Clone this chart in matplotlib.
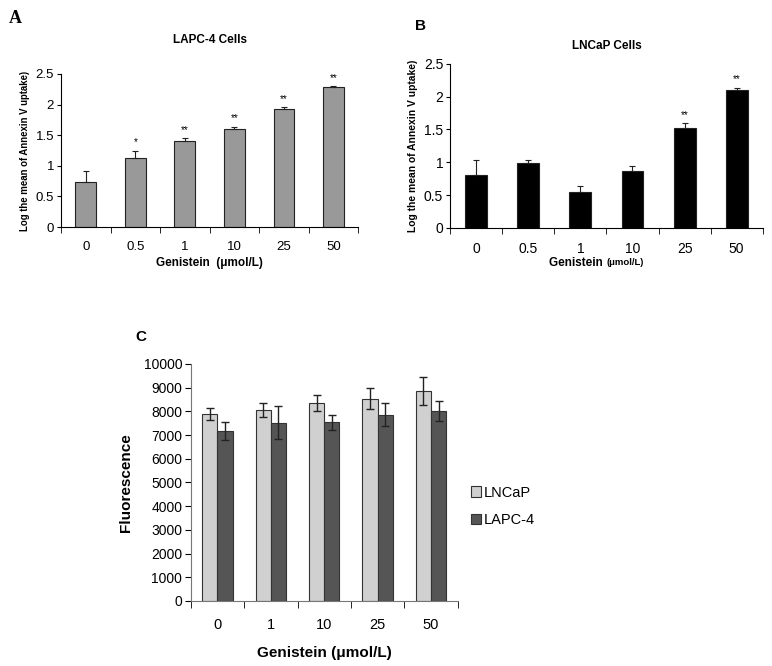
import numpy as np
import matplotlib
matplotlib.use('Agg')
import matplotlib.pyplot as plt

plt.rcParams['font.family'] = ['Liberation Sans', 'DejaVu Sans']

# panel A / B data
doses_ab = ['0', '0.5', '1', '10', '25', '50']
lapc_mean = [0.73, 1.13, 1.40, 1.60, 1.93, 2.28]
lapc_err = [0.18, 0.12, 0.06, 0.04, 0.03, 0.02]
lapc_sig = ['', '*', '**', '**', '**', '**']
lncap_mean = [0.80, 0.99, 0.55, 0.87, 1.52, 2.10]
lncap_err = [0.23, 0.05, 0.08, 0.07, 0.08, 0.04]
lncap_sig = ['', '', '', '', '**', '**']

# panel C data
doses_c = ['0', '1', '10', '25', '50']
fl_lncap = [7900, 8050, 8350, 8530, 8850]
fl_lncap_err = [250, 300, 350, 450, 600]
fl_lapc = [7180, 7520, 7530, 7860, 8020]
fl_lapc_err = [380, 700, 300, 500, 420]

fig = plt.figure(figsize=(7.72, 6.66), dpi=100)


def bar_panel(ax, means, errs, sig, color, tfs, yfs):
    x = np.arange(len(means))
    ax.bar(x, means, width=0.42, color=color, edgecolor='#222222', linewidth=0.8,
           yerr=[np.zeros(len(errs)), errs], capsize=2.5,
           error_kw=dict(elinewidth=0.8, capthick=0.8, ecolor='#222222'))
    for xi, m, e, s in zip(x, means, errs, sig):
        if s:
            ax.text(xi, m + e + 0.05, s, ha='center', va='bottom', fontsize=7)
    ax.set_xlim(-0.5, len(means) - 0.5)
    ax.set_ylim(0, 2.5)
    ax.set_yticks([0, 0.5, 1, 1.5, 2, 2.5])
    ax.set_yticklabels(['0', '0.5', '1', '1.5', '2', '2.5'], fontsize=tfs)
    ax.set_xticks(x)
    ax.set_xticklabels(doses_ab, fontsize=tfs)
    ax.set_xticks(np.arange(-0.5, len(means)), minor=True)
    ax.tick_params(axis='x', which='major', length=0, pad=10)
    ax.tick_params(axis='x', which='minor', length=4, direction='out')
    ax.tick_params(axis='y', length=3, direction='out', pad=2)
    for sp in ['top', 'right']:
        ax.spines[sp].set_visible(False)
    for sp in ['left', 'bottom']:
        ax.spines[sp].set_linewidth(0.8)
    ax.set_ylabel('Log the mean of Annexin V uptake)', fontsize=yfs, fontweight='bold', labelpad=4)


axA = fig.add_axes([0.079, 0.659, 0.385, 0.23])
bar_panel(axA, lapc_mean, lapc_err, lapc_sig, '#999999', 9.5, 6.9)
axA.set_xlabel('Genistein  (μmol/L)', fontsize=8.5, fontweight='bold', labelpad=3)
axA.set_title('LAPC-4 Cells', fontsize=8.5, fontweight='bold', pad=22)

axB = fig.add_axes([0.583, 0.658, 0.405, 0.246])
bar_panel(axB, lncap_mean, lncap_err, lncap_sig, '#000000', 10, 7.4)
axB.text(0.5, -0.215, 'Genistein ', transform=axB.transAxes, ha='right', va='center',
         fontsize=8.5, fontweight='bold')
axB.text(0.5, -0.215, '(μmol/L)', transform=axB.transAxes, ha='left', va='center',
         fontsize=6.8, fontweight='bold')
axB.set_title('LNCaP Cells', fontsize=8.5, fontweight='bold', pad=11)

fig.text(0.012, 0.965, 'A', fontsize=13, fontweight='bold', family='Liberation Serif')
fig.text(0.538, 0.955, 'B', fontsize=11, fontweight='bold')

# panel C
axC = fig.add_axes([0.247, 0.0976, 0.346, 0.356])
xc = np.arange(len(doses_c))
w = 0.285
axC.bar(xc - w / 2, fl_lncap, width=w, color='#d0d0d0', edgecolor='#333333', linewidth=0.8,
        yerr=fl_lncap_err, capsize=3, error_kw=dict(elinewidth=1, capthick=1, ecolor='#222222'),
        label='LNCaP')
axC.bar(xc + w / 2, fl_lapc, width=w, color='#555555', edgecolor='#333333', linewidth=0.8,
        yerr=fl_lapc_err, capsize=3, error_kw=dict(elinewidth=1, capthick=1, ecolor='#222222'),
        label='LAPC-4')
axC.set_xlim(-0.5, len(doses_c) - 0.5)
axC.set_ylim(0, 10000)
axC.set_yticks(np.arange(0, 10001, 1000))
axC.tick_params(axis='y', labelsize=10, length=4, pad=2)
axC.set_xticks(xc)
axC.set_xticklabels(doses_c, fontsize=10.5)
axC.set_xticks(np.arange(-0.5, len(doses_c)), minor=True)
axC.tick_params(axis='x', which='major', length=0, pad=12)
axC.tick_params(axis='x', which='minor', length=5, direction='out')
for sp in ['top', 'right']:
    axC.spines[sp].set_visible(False)
for sp in ['left', 'bottom']:
    axC.spines[sp].set_color('#777777')
axC.set_ylabel('Fluorescence', fontsize=11, fontweight='bold', labelpad=8)
axC.set_xlabel('Genistein (μmol/L)', fontsize=11, fontweight='bold', labelpad=10)
axC.legend(loc='center left', bbox_to_anchor=(1.0, 0.40), frameon=False, fontsize=10.5,
           handlelength=0.7, handleheight=0.7, handletextpad=0.2, labelspacing=0.9)

fig.text(0.175, 0.488, 'C', fontsize=11, fontweight='bold')

fig.savefig('out.png', dpi=100)
